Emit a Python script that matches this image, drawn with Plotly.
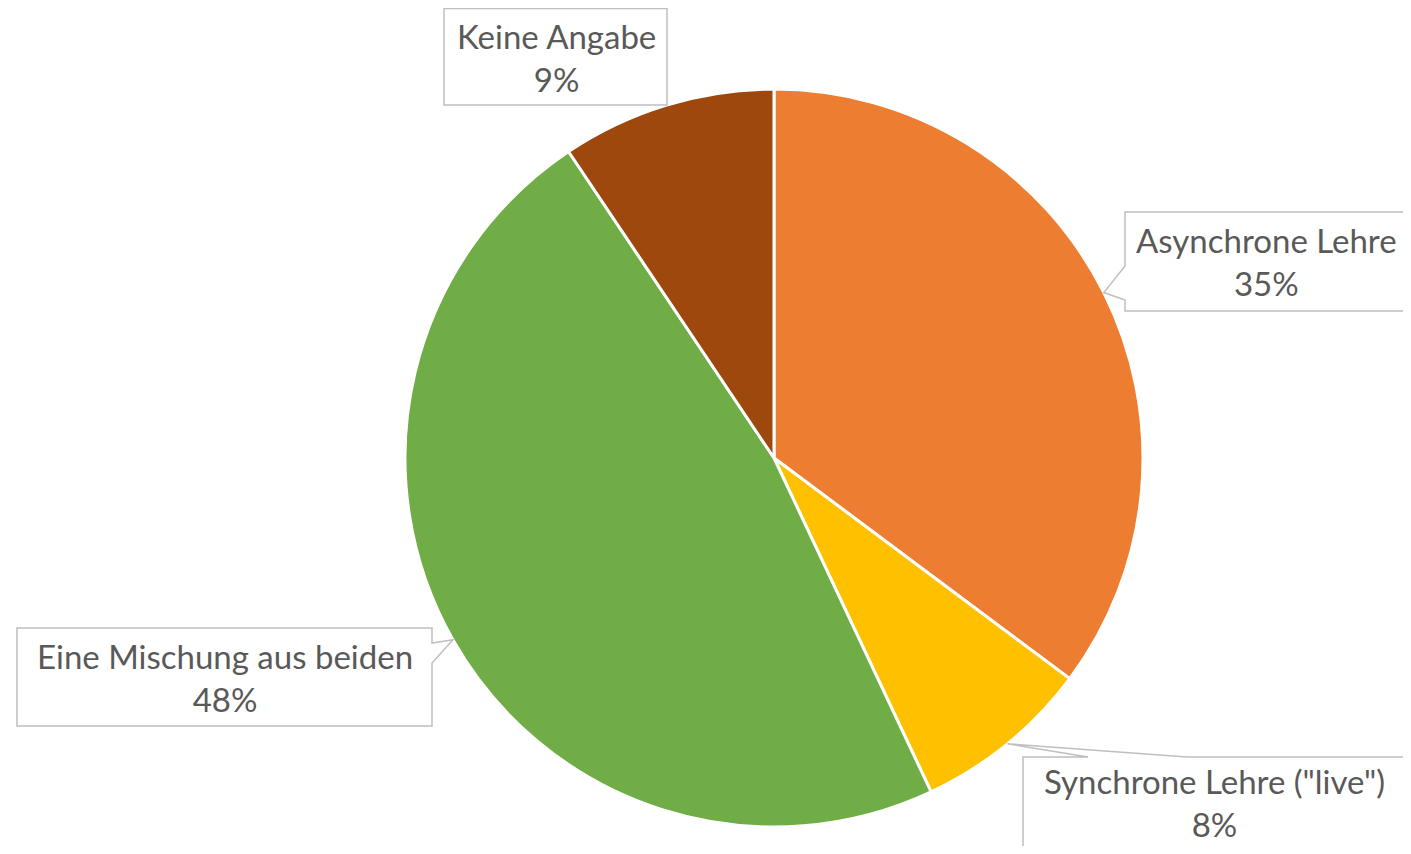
import math
import plotly.graph_objects as go

# the page puts the figure 8 px in from each edge, so keep it inside the window
OFF = 8
W, H = 1411 - 2 * OFF, 854 - 2 * OFF

# data
labels = ["Asynchrone Lehre", "Synchrone Lehre (\"live\")", "Eine Mischung aus beiden", "Keine Angabe"]
values = [35.2, 7.8, 47.6, 9.4]
colors = ["#ED7D31", "#FFC000", "#70AD47", "#9E480E"]

# pie geometry (page pixels)
cx, cy, R = 774, 458, 369

# callout boxes: left, top, right, bottom (page pixels), pointer side, text centre
boxes = [
    dict(box=(1125, 212, 1418, 311), side="left", base=(266, 300), text=(1266, 262)),
    dict(box=(1023, 757, 1408, 860), side="top", base=(1088, 1187), text=(1214, 802)),
    dict(box=(17, 628, 432, 726), side="right", base=(643, 663), text=(225, 677)),
    dict(box=(444, 8.5, 667, 105), side=None, base=None, text=(556, 57)),
]


def px(x):
    return (x - OFF) / W


def py(y):
    return 1 - (y - OFF) / H


fig = go.Figure(go.Pie(
    labels=labels,
    values=values,
    sort=False,
    direction="clockwise",
    rotation=0,
    textinfo="none",
    hoverinfo="label+percent",
    marker=dict(colors=colors, line=dict(color="white", width=3)),
    domain=dict(x=[px(cx - R), px(cx + R)], y=[py(cy + R), py(cy - R)]),
    showlegend=False,
))

total = sum(values)
shapes = []
annotations = []
cum = 0
for lab, v, b in zip(labels, values, boxes):
    # pointer tip sits on the rim at the middle of the slice
    mid = (cum + v / 2) / total * 2 * math.pi
    cum += v
    tx = cx + R * math.sin(mid)
    ty = cy - R * math.cos(mid)
    l, t, r, btm = b["box"]
    if b["side"] == "left":
        pts = [(l, t), (r, t), (r, btm), (l, btm), (l, b["base"][1]), (tx, ty), (l, b["base"][0])]
    elif b["side"] == "right":
        pts = [(l, t), (r, t), (r, b["base"][0]), (tx, ty), (r, b["base"][1]), (r, btm), (l, btm)]
    elif b["side"] == "top":
        pts = [(l, t), (b["base"][0], t), (tx, ty), (b["base"][1], t), (r, t), (r, btm), (l, btm)]
    else:
        pts = [(l, t), (r, t), (r, btm), (l, btm)]
    path = "M " + " L ".join(f"{px(x):.5f},{py(y):.5f}" for x, y in pts) + " Z"
    shapes.append(dict(type="path", xref="paper", yref="paper", path=path,
                       fillcolor="white", line=dict(color="#BFBFBF", width=1.5), layer="above"))
    pct = round(v / total * 100)
    annotations.append(dict(
        x=px(b["text"][0]), y=py(b["text"][1]),
        xref="paper", yref="paper", showarrow=False,
        text=f"{lab}<br>{pct}%",
        font=dict(family="Lato, Carlito, sans-serif", size=33, color="#595959"),
        xanchor="center", yanchor="middle", align="center",
    ))

fig.update_layout(
    width=W, height=H,
    margin=dict(l=0, r=0, t=0, b=0),
    paper_bgcolor="white",
    plot_bgcolor="white",
    shapes=shapes,
    annotations=annotations,
)

fig.write_html("out.html")
